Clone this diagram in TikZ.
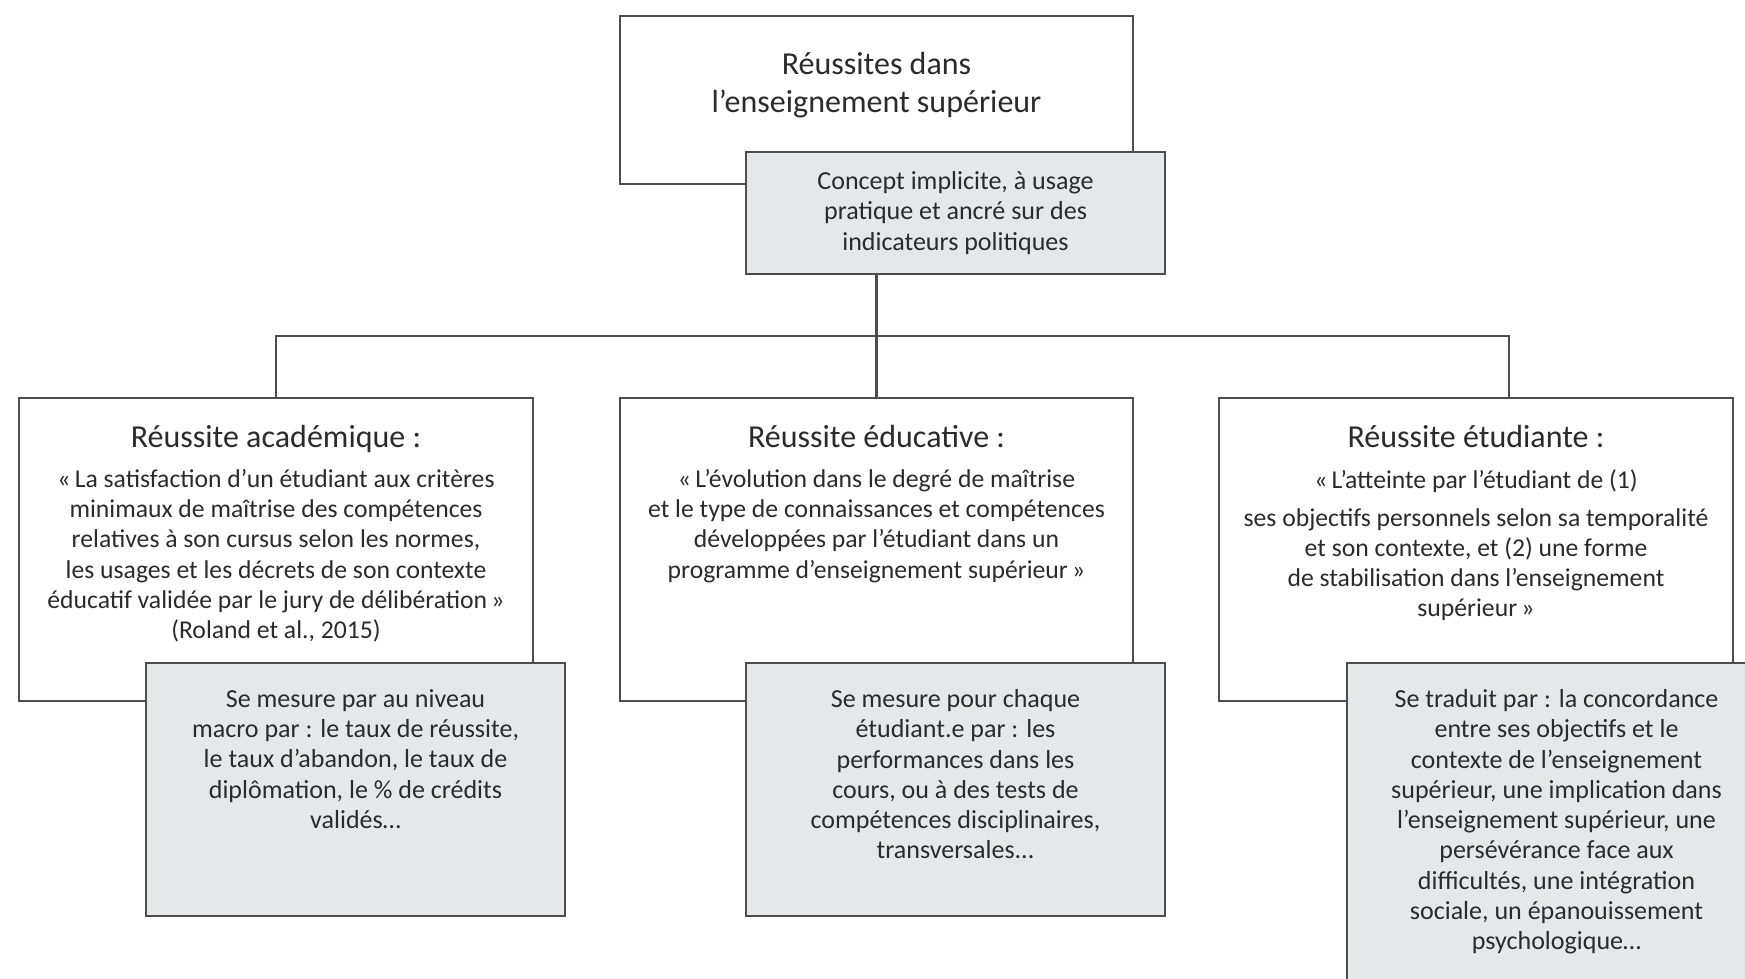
\documentclass[tikz,border=0pt]{standalone}
\usepackage{fontspec}
\setmainfont{Carlito}
\usetikzlibrary{positioning}

\definecolor{boxline}{HTML}{4D4D4D}
\definecolor{boxgray}{HTML}{E6E7E8}
\definecolor{inktext}{HTML}{2B2B2B}

\begin{document}
\begin{tikzpicture}[x=0.01cm,y=-0.01cm,
  wbox/.style={draw=boxline,line width=0.6pt,fill=white,inner sep=0pt,minimum width=5.13cm,minimum height=3.03cm},
  gbox/.style={draw=boxline,line width=0.6pt,fill=boxgray,inner sep=0pt,minimum width=4.19cm,minimum height=2.53cm},
  head/.style={text=inktext,inner sep=0pt,align=center,text depth=1.9pt,font=\fontsize{9.1}{10.8}\selectfont},
  body/.style={text=inktext,inner sep=0pt,align=center,font=\fontsize{7.3}{8.6}\selectfont},
  note/.style={text=inktext,inner sep=0pt,align=center,font=\fontsize{7.4}{8.6}\selectfont},
  link/.style={draw=boxline,line width=0.6pt}]

\useasboundingbox (0,0) rectangle (1745,978);
\clip (0,0) rectangle (1745,978);

% top
\node[wbox,minimum height=1.68cm] (top)  at (876.5,100) {};
\node[head,below=0.365cm of top.north] (toptxt) {Réussites dans\\l’enseignement supérieur};
\node[gbox,minimum height=1.22cm] (gtop) at (955.5,213) {};
\node[note,below=0.2cm of gtop.north] (gtoptxt) {Concept implicite, à usage\\pratique et ancré sur des\\indicateurs politiques};

% three kinds of success
\node[wbox] (boxA) at (276,549.5)  {};
\node[wbox] (boxB) at (876.5,549.5) {};
\node[wbox] (boxC) at (1476,549.5) {};

\node[head,below=0.275cm of boxA.north] (headA) {Réussite académique :};
\node[body,below=0.14cm of headA] (textA) {«\,La satisfaction d’un étudiant aux critères\\
  minimaux de maîtrise des compétences\\
  relatives à son cursus selon les normes,\\
  les usages et les décrets de son contexte\\
  éducatif validée par le jury de délibération\,»\\
  (Roland et al., 2015)};

\node[head,below=0.275cm of boxB.north] (headB) {Réussite éducative :};
\node[body,below=0.14cm of headB] (textB) {«\,L’évolution dans le degré de maîtrise\\
  et le type de connaissances et compétences\\
  développées par l’étudiant dans un\\
  programme d’enseignement supérieur\,»};

\node[head,below=0.275cm of boxC.north] (headC) {Réussite étudiante :};
\node[body,below=0.14cm of headC] (textC) {«\,L’atteinte par l’étudiant de (1)\\[2.2pt]
  ses objectifs personnels selon sa temporalité\\
  et son contexte, et (2) une forme\\
  de stabilisation dans l’enseignement\\
  supérieur\,»};

% how they are measured
\node[gbox] (gA) at (355.5,789.5) {};
\node[gbox] (gB) at (955.5,789.5) {};
\node[gbox,minimum height=3.37cm] (gC) at (1556.5,831.5) {};

\node[note,below=0.27cm of gA.north] (noteA) {Se mesure par au niveau\\
  macro par : le taux de réussite,\\
  le taux d’abandon, le taux de\\
  diplômation, le \% de crédits\\
  validés…};
\node[note,below=0.27cm of gB.north] (noteB) {Se mesure pour chaque\\
  étudiant.e par : les\\
  performances dans les\\
  cours, ou à des tests de\\
  compétences disciplinaires,\\
  transversales...};
\node[note,below=0.27cm of gC.north] (noteC) {Se traduit par : la concordance\\
  entre ses objectifs et le\\
  contexte de l’enseignement\\
  supérieur, une implication dans\\
  l’enseignement supérieur, une\\
  persévérance face aux\\
  difficultés, une intégration\\
  sociale, un épanouissement\\
  psychologique…};

% connectors
\coordinate (hub) at (876.5,336);
\draw[link] (gtop.south -| top.south) -- (hub);
\draw[link] (boxA.north) |- (hub) -| ([xshift=0.33cm]boxC.north);
\draw[link] (hub) -- (boxB.north);
\end{tikzpicture}
\end{document}
